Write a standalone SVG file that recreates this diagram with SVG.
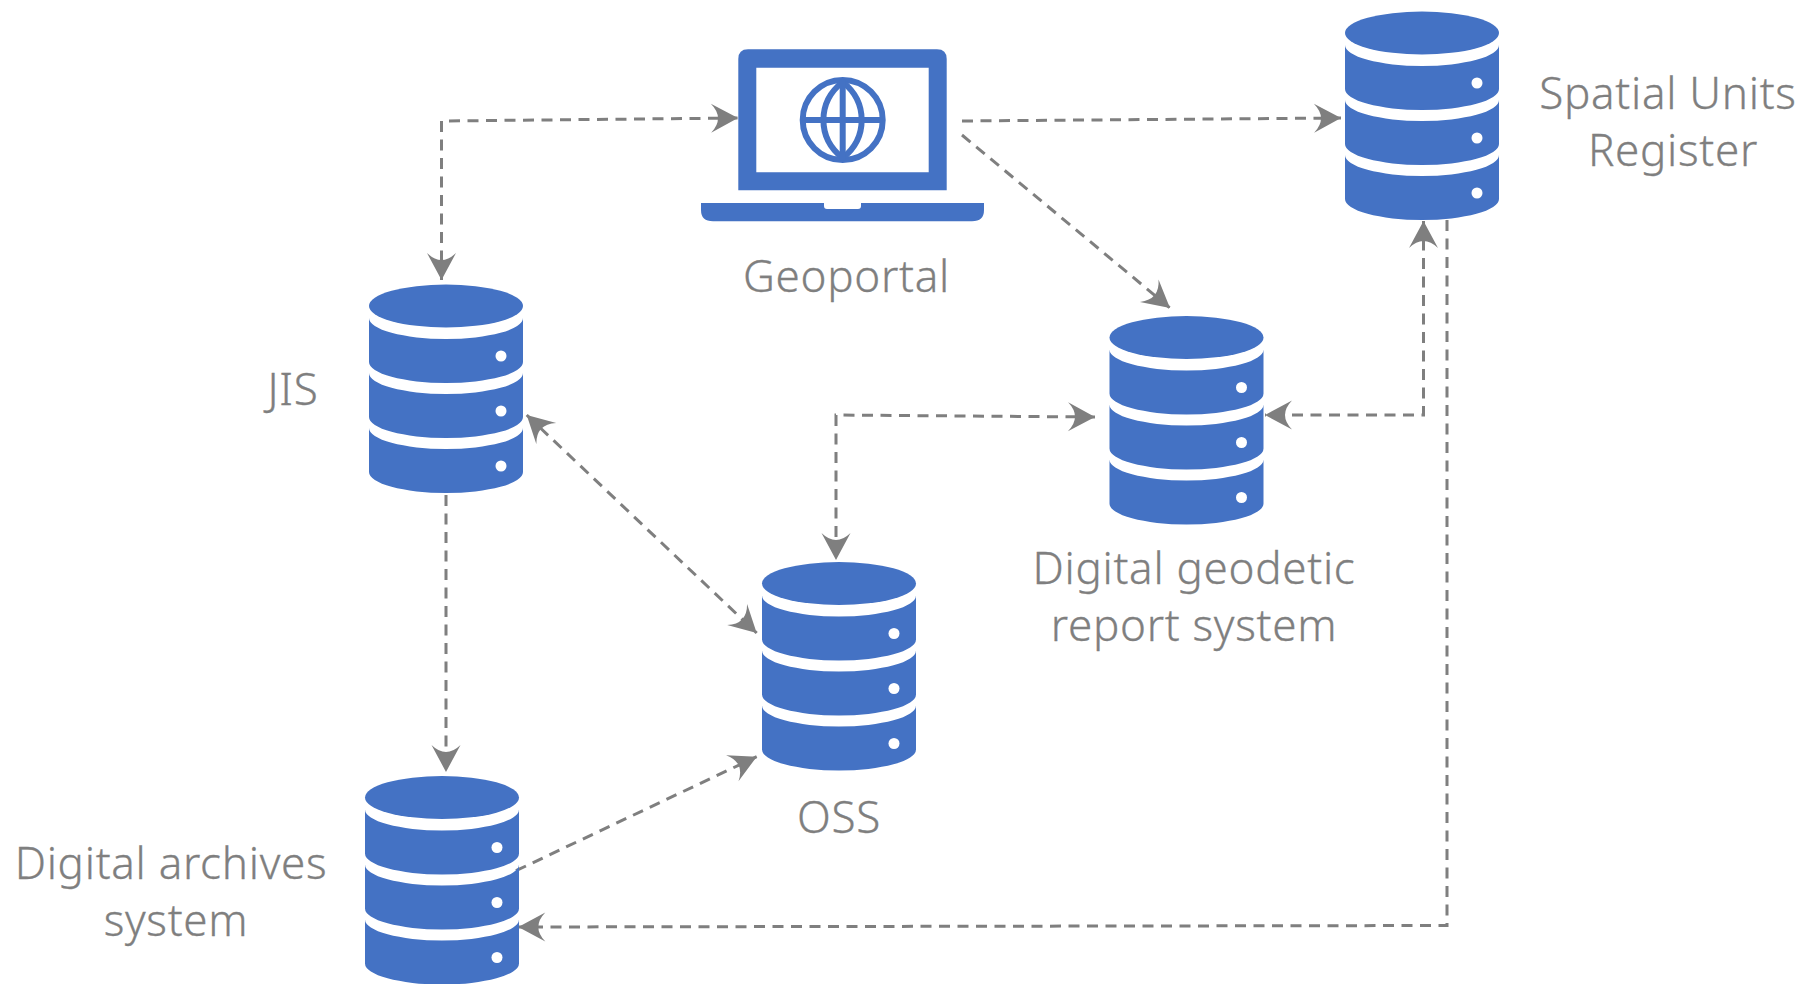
<svg xmlns="http://www.w3.org/2000/svg" width="1803" height="984" viewBox="0 0 1803 984">
<style>
.lbl{font-family:"Noto Sans","Liberation Sans",sans-serif;font-weight:300;font-size:44px;letter-spacing:.7px;fill:#7f7f7f;text-anchor:middle;stroke:#7f7f7f;stroke-width:.3px}
.blue{fill:#4472c4}
.dot{fill:#fff}
.conn{fill:none;stroke:#7f7f7f;stroke-width:3;stroke-dasharray:11 7.5}
.globe{fill:none;stroke:#4472c4;stroke-width:6}
</style>
<defs>
<marker id="arrow" markerUnits="userSpaceOnUse" markerWidth="32" markerHeight="32" refX="28" refY="16" orient="auto-start-reverse" viewBox="0 0 32 32">
<path d="M28 16 L1 1.5 Q15 16 1 30.5 Z" fill="#7f7f7f"/>
</marker>
<g id="db">
<ellipse class="blue" cx="77" cy="21.5" rx="77" ry="21.5"/>
<path class="blue" d="M0 33.5 A77 21 0 0 0 154 33.5 V77.5 A77 21 0 0 1 0 77.5 Z"/>
<path class="blue" d="M0 88.5 A77 21 0 0 0 154 88.5 V132.5 A77 21 0 0 1 0 132.5 Z"/>
<path class="blue" d="M0 143.5 A77 21 0 0 0 154 143.5 V187.5 A77 21 0 0 1 0 187.5 Z"/>
<circle class="dot" cx="132" cy="71.5" r="5.5"/>
<circle class="dot" cx="132" cy="126.5" r="5.5"/>
<circle class="dot" cx="132" cy="181.5" r="5.5"/>
</g>
</defs>
<g id="connectors">
<path class="conn" marker-start="url(#arrow)" marker-end="url(#arrow)" d="M441.5 280 V121 L738 118"/>
<path class="conn" marker-end="url(#arrow)" d="M962 121 L1341 118"/>
<path class="conn" marker-end="url(#arrow)" d="M962 135 L1170 308"/>
<path class="conn" marker-start="url(#arrow)" marker-end="url(#arrow)" d="M1095 417 L836 415 V560"/>
<path class="conn" marker-start="url(#arrow)" marker-end="url(#arrow)" d="M1423.5 221 V415 H1265"/>
<path class="conn" marker-start="url(#arrow)" marker-end="url(#arrow)" d="M526.7 415 L756.7 633"/>
<path class="conn" marker-end="url(#arrow)" d="M446 495 V772"/>
<path class="conn" marker-end="url(#arrow)" d="M516 870.7 L756.7 756.7"/>
<path class="conn" marker-end="url(#arrow)" d="M1447 220 V925.5 L518.3 927"/>
</g>
<g id="geoportal">
<path class="blue" fill-rule="evenodd" d="M748 49.3 H937 Q946.7 49.3 946.7 59 V190.3 H738.3 V59 Q738.3 49.3 748 49.3 Z M756.3 67.7 V172.3 H928.7 V67.7 Z"/>
<path class="blue" d="M701 203 H824 V206 Q824 209 827 209 H858 Q861 209 861 206 V203 H984 V210 Q984 221.3 972 221.3 H713 Q701 221.3 701 210 Z"/>
<circle class="globe" cx="842.7" cy="120" r="40"/>
<path class="globe" d="M842.7 82 C817 102 817 138 842.7 158 C868 138 868 102 842.7 82 Z"/>
<path class="globe" d="M842.7 80 V160 M802.7 120 H882.7"/>
<text class="lbl" x="846.5" y="291.7">Geoportal</text>
</g>
<g id="spatial-units-register">
<use href="#db" x="1345" y="11.5"/>
<text class="lbl" x="1668" y="109">Spatial Units</text>
<text class="lbl" x="1673" y="166">Register</text>
</g>
<g id="jis">
<use href="#db" x="369" y="284.5"/>
<text class="lbl" x="293" y="405">JIS</text>
</g>
<g id="digital-geodetic-report-system">
<use href="#db" x="1109.5" y="316"/>
<text class="lbl" x="1194" y="584">Digital geodetic</text>
<text class="lbl" x="1194" y="641">report system</text>
</g>
<g id="oss">
<use href="#db" x="762" y="562"/>
<text class="lbl" x="839" y="833">OSS</text>
</g>
<g id="digital-archives-system">
<use href="#db" x="365" y="776"/>
<text class="lbl" x="171" y="879">Digital archives</text>
<text class="lbl" x="176" y="936">system</text>
</g>
</svg>
